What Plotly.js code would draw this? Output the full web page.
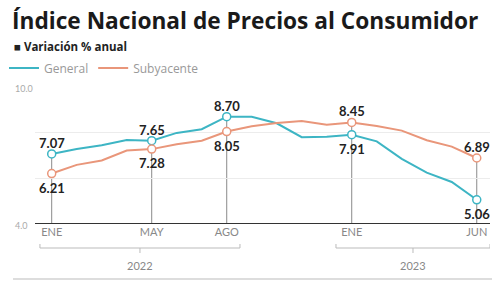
<!DOCTYPE html>
<html>
<head>
<meta charset="utf-8">
<script src="https://cdn.plot.ly/plotly-3.0.1.min.js"></script>
<style>html,body{margin:0;padding:0;background:#fff;}#chart{width:492px;height:285px;}</style>
</head>
<body>
<div id="chart"></div>
<script>
// ---- Data ----
const months = ['ene 2022','feb 2022','mar 2022','abr 2022','may 2022','jun 2022','jul 2022','ago 2022','sep 2022','oct 2022','nov 2022','dic 2022',
                'ene 2023','feb 2023','mar 2023','abr 2023','may 2023','jun 2023'];
const general = [7.07,7.28,7.45,7.68,7.65,7.99,8.15,8.70,8.70,8.41,7.80,7.82,7.91,7.62,6.85,6.25,5.84,5.06];
const subyacente = [6.21,6.59,6.78,7.22,7.28,7.49,7.65,8.05,8.28,8.42,8.51,8.35,8.45,8.29,8.09,7.67,7.39,6.89];
const highlightIdx = [0,4,7,12,17];
const tickLabels = ['ENE','MAY','AGO','ENE','JUN'];
const years = ['2022','2023'];
const yearFirstIdx = [0,12];
const yearLastIdx = [7,17];
const yTicks = [4,6,8,10];
const yTickText = ['4.0','','','10.0'];

// ---- Styling ----
const cGen = '#3db5c4', cSub = '#e9967a';
const W = 492, H = 285, L = 35, R = 2, T = 87, B = 61;
const plotH = H - T - B, plotW = W - L - R;
const py = p => (H - B - p) / plotH;          // pixel row -> paper y
const px = p => (p - L) / plotW;              // pixel col -> paper x
const x = months.map((_, i) => i);

const traces = [
  {x: x, y: general, name: 'General', mode: 'lines', line: {color: cGen, width: 2}, hoverinfo: 'skip'},
  {x: x, y: subyacente, name: 'Subyacente', mode: 'lines', line: {color: cSub, width: 2}, hoverinfo: 'skip'},
  {x: highlightIdx, y: highlightIdx.map(i => general[i]), mode: 'markers', showlegend: false,
   marker: {size: 8, color: '#fff', line: {color: cGen, width: 1.5}}, hoverinfo: 'skip'},
  {x: highlightIdx, y: highlightIdx.map(i => subyacente[i]), mode: 'markers', showlegend: false,
   marker: {size: 8, color: '#fff', line: {color: cSub, width: 1.5}}, hoverinfo: 'skip'}
];

const shapes = [];
const annotations = [];
const yMin = yTicks[0];

// vertical drop lines from highest point to axis
highlightIdx.forEach(i => {
  shapes.push({type: 'line', xref: 'x', yref: 'y', x0: i, x1: i, y0: yMin, y1: Math.max(general[i], subyacente[i]),
               line: {color: '#8a8a8a', width: 1}, layer: 'below'});
  const gHigh = general[i] >= subyacente[i];
  [[general[i], gHigh], [subyacente[i], !gHigh]].forEach(([v, above]) => {
    annotations.push({x: i, y: v, xref: 'x', yref: 'y', text: '<b>' + v.toFixed(2) + '</b>', showarrow: false,
      font: {family: 'Lato, sans-serif', size: 13, color: '#222'}, yanchor: 'middle', yshift: above ? 11 : -14});
  });
});

// y labels (left aligned)
yTicks.forEach((v, k) => {
  if (yTickText[k]) annotations.push({x: px(13), xref: 'paper', y: v, yref: 'y', text: yTickText[k], showarrow: false,
    xanchor: 'left', yanchor: 'middle', yshift: -1, font: {family: 'Lato, sans-serif', size: 9, color: '#aaa'}});
});

// year brackets
years.forEach((yr, k) => {
  const a = yearFirstIdx[k] - (k === 0 ? 0.47 : 0.63), b = yearLastIdx[k] + 0.53, m = (a + b) / 2;
  const yb = py(248), yt = py(244), yd = py(253);
  shapes.push({type: 'path', xref: 'x', yref: 'paper',
    path: `M ${a} ${yt} L ${a} ${yb} L ${b} ${yb} L ${b} ${yt}`, line: {color: '#bbb', width: 1}});
  shapes.push({type: 'line', xref: 'x', yref: 'paper', x0: m, x1: m, y0: yb, y1: yd, line: {color: '#bbb', width: 1}});
  annotations.push({x: m, xref: 'x', y: py(265), yref: 'paper', text: yr, showarrow: false, yanchor: 'middle',
    font: {family: 'Lato, sans-serif', size: 11, color: '#888'}});
});

// subtitle
annotations.push({x: px(12), xref: 'paper', y: py(47), yref: 'paper', xanchor: 'left', yanchor: 'middle', showarrow: false,
  text: '<b>■ Variación % anual</b>', font: {family: '"Open Sans", sans-serif', size: 11.5, color: '#222'}});
// bottom rule + source
shapes.push({type: 'line', xref: 'paper', yref: 'paper', x0: px(13), x1: px(W), y0: py(279), y1: py(279),
  line: {color: '#bbb', width: 1}});
annotations.push({x: px(13), xref: 'paper', y: py(281), yref: 'paper', xanchor: 'left', yanchor: 'top', showarrow: false,
  text: 'Fuente: INEGI', font: {family: 'Lato, sans-serif', size: 8, color: '#ccc'}});

const layout = {
  width: W, height: H,
  margin: {l: L, r: R, t: T, b: B},
  paper_bgcolor: '#fff', plot_bgcolor: '#fff',
  title: {text: '<b>Índice Nacional de Precios al Consumidor</b>', xref: 'container', yref: 'container',
          x: 12 / W, xanchor: 'left', y: 1 - 21 / H, yanchor: 'middle',
          font: {family: '"Open Sans", sans-serif', size: 22.7, color: '#1a1a1a'}},
  showlegend: true,
  legend: {orientation: 'h', xref: 'container', yref: 'container', x: 4 / W, xanchor: 'left', y: 1 - 68 / H, yanchor: 'middle',
           font: {family: '"Open Sans", sans-serif', size: 12, color: '#999'}, bgcolor: 'rgba(0,0,0,0)'},
  xaxis: {range: [-0.668, 17.53], tickvals: highlightIdx, ticktext: tickLabels, showgrid: false, zeroline: false,
          showline: false, ticks: '', tickfont: {family: 'Lato, sans-serif', size: 11, color: '#888'}, fixedrange: true},
  yaxis: {range: [yMin, yTicks[yTicks.length - 1]], tickvals: yTicks, showticklabels: false, showgrid: true,
          gridcolor: '#ececec', gridwidth: 1, zeroline: false, showline: false, fixedrange: true},
  shapes: shapes.concat([{type: 'line', xref: 'paper', yref: 'y', x0: 0, x1: 1, y0: yMin, y1: yMin, line: {color: '#333', width: 2}}]),
  annotations: annotations
};

Plotly.newPlot('chart', traces, layout, {displayModeBar: false, staticPlot: true});
</script>
</body>
</html>
